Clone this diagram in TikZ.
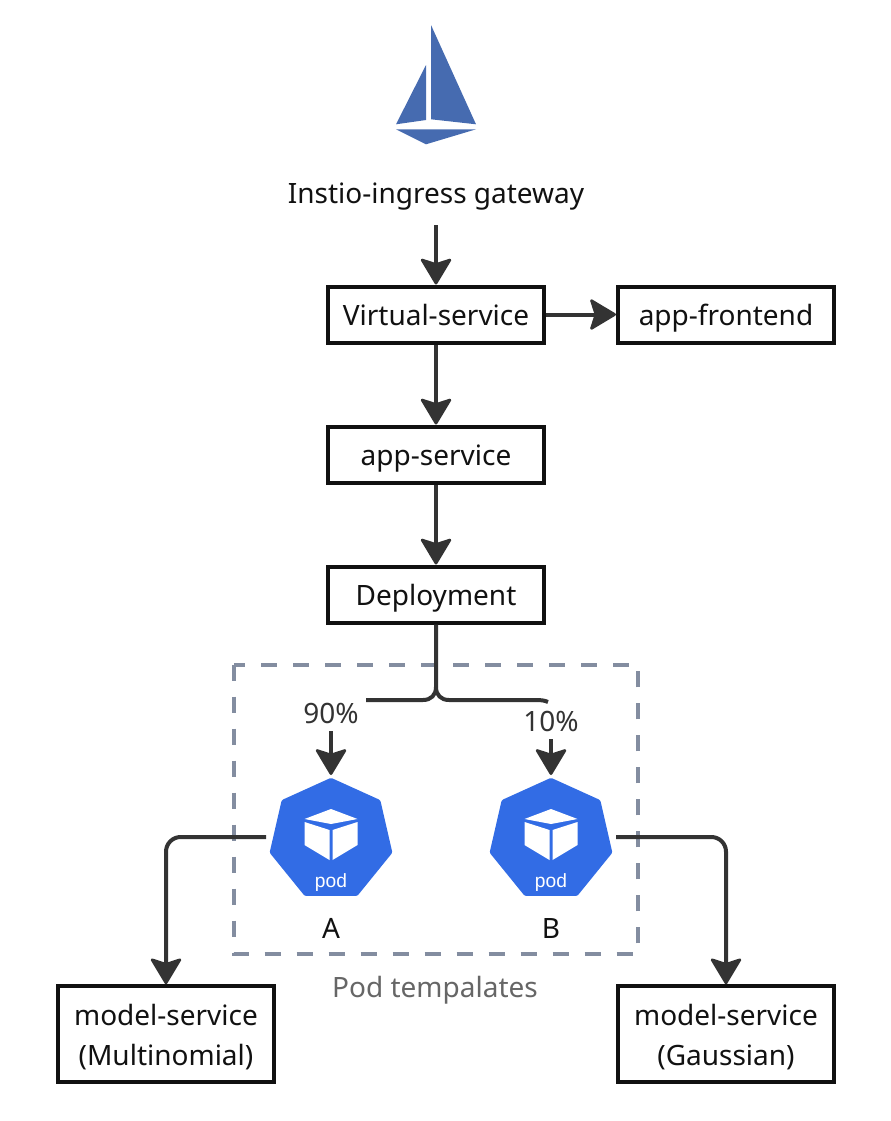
\documentclass[tikz,border=0pt]{standalone}
\usepackage{fontspec}
\setmainfont{Noto Sans}
\newfontfamily\podfont{Liberation Sans}
\usetikzlibrary{arrows.meta}
\definecolor{ink}{HTML}{333333}
\definecolor{boxline}{HTML}{111111}
\definecolor{sail}{HTML}{466BB0}
\definecolor{podblue}{HTML}{326CE5}
\definecolor{dashc}{HTML}{838DA0}
\tikzset{
  x=0.75pt,y=-0.75pt,
  svcbox/.style={draw=boxline,line width=3pt,fill=white,minimum width=162pt,inner sep=0pt,align=center,font=\fontsize{21}{30}\selectfont,text=boxline},
  onebox/.style={svcbox,minimum height=42pt,text height=16pt,text depth=0pt},
  twobox/.style={svcbox,minimum height=72pt,text height=47pt,text depth=0pt},
  lbl/.style={inner sep=0pt,font=\fontsize{21}{26}\selectfont,text=boxline},
  conn/.style={draw=ink,line width=3pt,rounded corners=11pt,-{Stealth[length=21pt,width=25pt,inset=4pt,round,line width=2pt]}},
  plainconn/.style={draw=ink,line width=3pt},
  sailf/.style={fill=sail,draw=none},
  podf/.style={fill=podblue,draw=podblue,line width=4pt,line join=round},
  cube/.style={fill=white,draw=none},
}
\newcommand{\podicon}[2]{%
  \begin{scope}[shift={(#1,#2)}]
    \path[podf] (0,4.7) -- (47,26) -- (58.5,76) -- (25,117.3) -- (-25,117.3) -- (-58.5,76) -- (-47,26) -- cycle;
    \path[cube] (0,33) -- (26.5,43) -- (0,48) -- (-26.5,43) -- cycle;
    \path[cube] (-26.5,46) -- (-1.5,54) -- (-1.5,84) -- (-26.5,69) -- cycle;
    \path[cube] (26.5,46) -- (1.5,54) -- (1.5,84) -- (26.5,69) -- cycle;
    \node[inner sep=0pt,text=white,font=\podfont\fontsize{14.4}{16}\selectfont] at (0,106.5) {pod};
  \end{scope}}
\begin{document}
\begin{tikzpicture}
\useasboundingbox (0,0) rectangle (891,1121);
% logo
\path[sailf] (431,25) -- (476,124.3) -- (431,119.3) -- cycle;
\path[sailf] (426,65) -- (426,120) -- (396,124.3) -- cycle;
\path[sailf] (396,129.3) -- (476,129.3) -- (426,144.3) -- cycle;
\node[lbl] (gw) at (436,196.5) {Instio-ingress gateway};
\coordinate (gwb) at (436,225);
% boxes
\node[onebox] (vs) at (436,314.5) {Virtual-service};
\node[onebox] (fe) at (726,314.5) {app-frontend};
\node[onebox] (as) at (436,454.5) {app-service};
\node[onebox] (dp) at (436,594.5) {Deployment};
\node[twobox] (m1) at (166,1034.3) {model-service\\(Multinomial)};
\node[twobox] (m2) at (726,1034.3) {model-service\\(Gaussian)};
% group
\draw[dashc,line width=3pt,dash pattern=on 12pt off 12pt] (234,664.7) rectangle (638,954);
\node[inner sep=0pt,text=black!60,font=\fontsize{21}{26}\selectfont] (gl) at (435,990) {Pod tempalates};
% pods
\podicon{331}{776}
\podicon{551}{776}
\coordinate (podA) at (331,775);
\coordinate (podB) at (551,775);
\coordinate (podAl) at (266,837);
\coordinate (podBr) at (616,837);
\node[lbl] (la) at (331,928) {A};
\node[lbl] (lb) at (551,928) {B};
\node[inner sep=0pt,text=ink,font=\fontsize{21}{26}\selectfont] (p90) at (331,713) {90\%};
\node[inner sep=0pt,text=ink,font=\fontsize{21}{26}\selectfont] (p10) at (551,721) {10\%};
% connectors
\draw[conn] (gwb) -- (vs.north);
\draw[conn] (vs.east) -- (fe.west);
\draw[conn] (vs.south) -- (as.north);
\draw[conn] (as.south) -- (dp.north);
\coordinate (sl) at (366,700);
\coordinate (sr) at (548,702);
\draw[plainconn] (dp.south) -- (436,687) .. controls (436,695) and (431,700) .. (423,700) -- (sl);
\draw[plainconn] (436,687) .. controls (436,695) and (441,700) .. (449,700) -- (536,700) .. controls (541,700) and (545,700.5) .. (sr);
\draw[conn] (331,731) -- (podA);
\draw[conn] (551,739) -- (podB);
\draw[conn] (podAl) -| (m1.north);
\draw[conn] (podBr) -| (m2.north);
\end{tikzpicture}
\end{document}
